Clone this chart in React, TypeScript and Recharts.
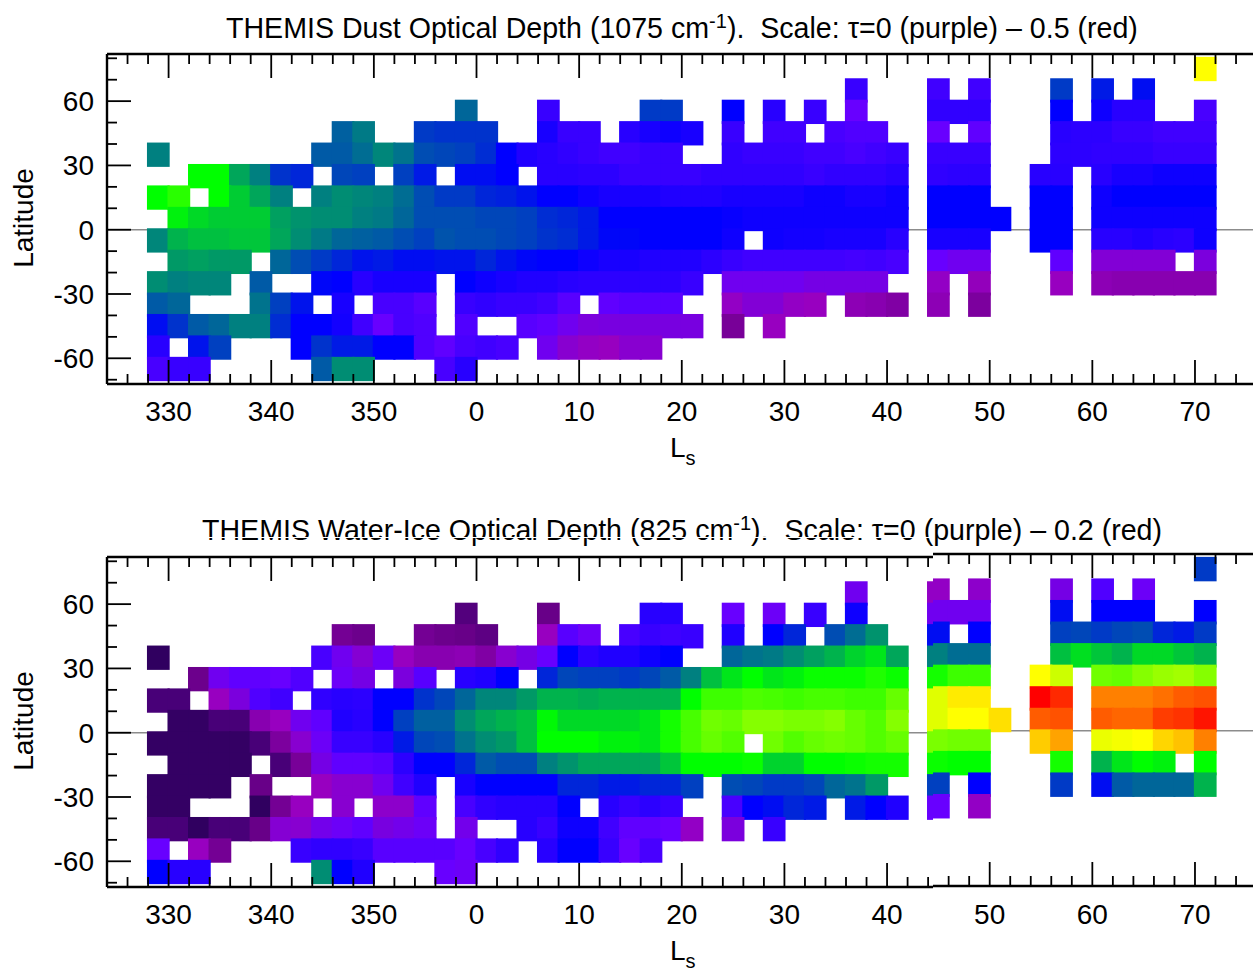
import React from 'react';
import { ScatterChart, Scatter, XAxis, YAxis, ReferenceLine } from 'recharts';

const _ = null;
// Values are percent of each panel's colour scale (0 = purple, 100 = red). Columns start at Ls 328, 2 degrees wide.
const dustN75 = [_,_,_,_,_,_,_,_,_,_,_,_,_,_,_,_, _,_,_,_,_,_,_,_,_,_,_,_,_,_,_,_,_,_,_,_, _,_,_,_,_,_,_,_,_,_,_,_,_,_,_,75];
const dustN65 = [_,_,_,_,_,_,_,_,_,_,_,_,_,_,_,_, _,_,_,_,_,_,_,_,_,_,_,_,_,_,_,_,_,_,24,_, _,_,23,_,23,_,_,_,34.5,_,32,_,31,_,_,_];
const dustN55 = [_,_,_,_,_,_,_,_,_,_,_,_,_,_,_,38, _,_,_,24,_,_,_,_,34.5,34.5,_,_,30,_,27,_,24,_,18,_, _,_,25,25,25,_,_,_,30,_,29,27,27,_,_,22];
const dustN45 = [_,_,_,_,_,_,_,_,_,37.5,39.5,_,_,34.5,34,34, 34,_,_,28,24,24,_,27,28,29,28,_,24,_,23,23,_,22,21,21, _,_,18,_,19,_,_,_,27,26,26,24,24,23,23,23];
const dustN35 = [40,_,_,_,_,_,_,_,37,37,38.5,40.5,39,36,35.5,35, 33.5,30,27.5,27,25,24,23,23,24,24,_,_,25,24,24,24,23,23,22,23, 24,_,24,24,24,_,_,_,26,26,25,25,25,24,24,24];
const dustN25 = [_,_,50,50,43,40,34,33,_,35.5,35,_,35,32,_,31, 31,30,_,27,27,26,26,24,24,24,24,25,25,25,25,25,24,25,25,25, 27,_,25,26,26,_,_,27,27,_,27,28,28,29,29,29];
const dustN15 = [50,54,_,50,46,43,40,_,40,41,40.5,40,38.5,36,34.5,34.5, 33,32.5,31.5,30,30,29,28,28,28,27.5,27.5,27.5,28,28,28,28,29,29,28,28, 29,_,30,30,30,_,_,30,30,_,29,30,30,30,30,30];
const dustN05 = [_,49,47,46,46,46,42.5,41.5,41,41,40,39.5,38,36,36,36, 35.5,35.5,35,33.5,33,32,30,30,30,30,30,30,29.5,29,29,29,29,29,29,29, 29,_,30,30,30,30,_,30,30,_,29,29,29,29,29,29];
const dustS05 = [40.5,44,45,45,45.5,45.5,43,41,39.5,38,37.5,37,36,35,36.5,36, 36,35.5,35,34,33.5,32,30.5,30.5,30,30,30,30,29,_,29,28.5,28.5,28,28,28, 27,_,28,28,28,_,_,30,30,_,27,27,27.5,27,26,29];
const dustS15 = [_,42,42.5,42,42,_,38,36,34.5,33,31.5,32,31,31,31.5,31.5, 33,31.5,30.5,30,30,29,28,28,27.5,27.5,27.5,26,24,23,23,23,23,23,22.5,23, 22,_,18,17,17,_,_,_,19,_,14,14,14,14,_,15];
const dustS25 = [41,40,40.5,40.5,_,37,_,_,30.5,30,27,28,28,28,_,30, 29,28,27.5,27.5,27,26,26,26,26,26,24,_,17,17,17,17,16,16,16,16, _,_,12,_,11,_,_,_,11.5,_,10.5,10,10,10,10,10];
const dustS35 = [37,38,_,_,_,39,35,31.5,_,28,_,22,22,20,_,24, 25,24,24,23,20,_,19,20,20,20,_,_,12,14,14,12,11.5,_,10.5,10, 9,_,10.5,_,8.5,_,_,_,_,_,_,_,_,_,_,_];
const dustS45 = [31,34,37,38,40,40,33.5,30,30,28.5,23,18,22,21,_,21, _,_,20,19,17,15,15.5,15.5,15.5,15.5,15.5,_,8,_,11.5,_,_,_,_,_, _,_,_,_,_,_,_,_,_,_,_,_,_,_,_,_];
const dustS55 = [27,_,31.5,35,_,_,_,30,34,32,32,30,30,21,19,22, 23,22,_,17,13,12,11.5,13,13,_,_,_,_,_,_,_,_,_,_,_, _,_,_,_,_,_,_,_,_,_,_,_,_,_,_,_];
const dustS65 = [22,24,24,_,_,_,_,_,37,41,41,_,_,_,22,27, _,_,_,_,_,_,_,_,_,_,_,_,_,_,_,_,_,_,_,_, _,_,_,_,_,_,_,_,_,_,_,_,_,_,_,_];

const iceN75 = [_,_,_,_,_,_,_,_,_,_,_,_,_,_,_,_, _,_,_,_,_,_,_,_,_,_,_,_,_,_,_,_,_,_,_,_, _,_,_,_,_,_,_,_,_,_,_,_,_,_,_,34.5];
const iceN65 = [_,_,_,_,_,_,_,_,_,_,_,_,_,_,_,_, _,_,_,_,_,_,_,_,_,_,_,_,_,_,_,_,_,_,17,_, _,_,12,_,12.5,_,_,_,16,_,21,_,17.5,_,_,_];
const iceN55 = [_,_,_,_,_,_,_,_,_,_,_,_,_,_,_,4, _,_,_,6,_,_,_,_,27,27,_,_,18,_,17.5,_,24,_,29,_, _,_,17,17,17,_,_,_,31,_,30,30,30,_,_,30];
const iceN45 = [_,_,_,_,_,_,_,_,_,7.5,6.5,_,_,7.5,6.5,6, 5,_,_,11.5,20,17.5,_,22,24,23,24,_,27.5,_,30,33,_,36,38.5,41.5, _,_,31,_,30,_,_,_,35,35.5,34.5,35.5,36,33,32,34.5];
const iceN35 = [0,_,_,_,_,_,_,_,22,17,13.5,17.5,11.5,10,10,10.5, 9,13,16,18,30,26,27.5,27.5,29,30,_,_,38,39,39.5,41,42.5,44,46.5,48, 43,_,40,38.5,38.5,_,_,_,45,47.5,45.5,44,47,47,45.5,44];
const iceN25 = [_,_,6.5,17,19,19,18,21,_,17.5,16,_,15,20,_,27, 27.5,30,_,33,35.5,35,35,34.5,35.5,37,40,45,48,50,48,49,51,51,51,53, 51,_,52,56,56,_,_,75,70,_,61,60,63,65,66,63];
const iceN15 = [3,3,_,11.5,15,21,23,_,25,27,26,30,30,34,35.5,38, 40.5,40.5,42,44,44,43.5,44,44,44,44,50,56,56,57.5,57,56,57,57,56,56, 60,_,72,77,77,_,_,100,96,_,87.5,87.5,87.5,89,91,92];
const iceN05 = [_,0.5,0.5,3,3,10,11.5,17,19,27.5,27,30,35,37.5,37.5,41, 43,44,45,49.5,47,47,47,47,48,52,57,61,60,63,63,62,62,63,60,58, 63,_,72,75,75,78,_,91,92,_,91,90,90,94,95,98];
const iceS05 = [0.5,0.5,0.5,0.5,0.5,3,8.5,13,17.5,24,24,27,32,35.5,36,39, 41,42,45,50,50,50,49,49,48,52,57,60,58,_,61,58,60,61,60,58, 60,_,62,61,61,_,_,80,84,_,73,74,75,79,81,87.5];
const iceS15 = [_,0.5,0.5,0.5,0.5,_,3,8,16,19,19,20,26,30,30,33, 37,36,36,40,41.5,43,43,43,43,45.5,50,50,50,51,46.5,46.5,50,50,51,52, 52,_,51,50,50,_,_,_,52,_,44,48,50,49,_,50];
const iceS25 = [0.5,0.5,0.5,0.5,_,6,_,_,11.5,13,13,17,23,27.5,_,28, 30,30,30,30,33,33,32,32,33,33,35,_,36,35.5,34.5,34.5,35.5,38,39,42, _,_,35,_,30,_,_,_,34.5,_,31,37,38,38,38,44];
const iceS35 = [0.5,0.5,_,_,_,0,7.5,11.5,_,13,_,12.5,12.5,19,_,22, 25,27,27,27,30,_,27,24,26,24,_,_,22,30,31,33,32,_,32,30, 27.5,_,18,_,12,_,_,_,_,_,_,_,_,_,_,_];
const iceS45 = [3,3,0,3,3,6,13.5,13,16.5,17.5,19,15.5,16.5,17.5,_,16.5, _,_,27,24,29,29,23,19,19,18,12,_,15,_,24,_,_,_,_,_, _,_,_,_,_,_,_,_,_,_,_,_,_,_,_,_];
const iceS55 = [18,_,11.5,7.5,_,_,_,24,25,25,24,20,20,20,20,18, 22,25,_,27,30,30,24,18,22,_,_,_,_,_,_,_,_,_,_,_, _,_,_,_,_,_,_,_,_,_,_,_,_,_,_,_];
const iceS65 = [30,27,27,_,_,_,_,_,41,30,27.5,_,_,_,18,17.5, _,_,_,_,_,_,_,_,_,_,_,_,_,_,_,_,_,_,_,_, _,_,_,_,_,_,_,_,_,_,_,_,_,_,_,_];

const rowLats = [75, 65, 55, 45, 35, 25, 15, 5, -5, -15, -25, -35, -45, -55, -65];
const dustRows = [dustN75, dustN65, dustN55, dustN45, dustN35, dustN25, dustN15, dustN05, dustS05, dustS15, dustS25, dustS35, dustS45, dustS55, dustS65];
const iceRows = [iceN75, iceN65, iceN55, iceN45, iceN35, iceN25, iceN15, iceN05, iceS05, iceS15, iceS25, iceS35, iceS45, iceS55, iceS65];

const xTicks = [326,328,330,332,334,336,338,340,342,344,346,348,350,352,354,356,358,360,362,364,366,368,370,372,374,376,378,380,382,384,386,388,390,392,394,396,398,400,402,404,406,408,410,412,414,416,418,420,422,424,426,428,430,432,434];
const yTicks = [-70,-60,-50,-40,-30,-20,-10,0,10,20,30,40,50,60,70,80];

const colorStops: [number, number, number, number][] = [
  [0,48,0,96],[3,72,0,120],[6,104,0,136],[8,120,0,152],[10,136,0,176],[11.5,152,0,192],[13,136,0,208],
  [15.5,120,0,224],[17,112,0,240],[18,104,0,255],[20,88,0,255],[22,72,0,255],[24,56,0,255],[25,48,0,255],[27,40,0,255],[28,24,0,255],[29,14,0,255],
  [30,0,0,255],[40,0,128,128],[50,0,255,0],[75,255,255,0],[100,255,0,0],
];
function colorOf(t: number) {
  for (let i = 1; i < colorStops.length; i++) {
    const a = colorStops[i - 1], b = colorStops[i];
    if (t <= b[0]) {
      const f = (t - a[0]) / (b[0] - a[0]);
      const c = [1, 2, 3].map((k) => Math.round(a[k] + (b[k] - a[k]) * f));
      return `rgb(${c[0]},${c[1]},${c[2]})`;
    }
  }
  return 'rgb(255,0,0)';
}

const X0 = 324, X1 = 436.14, Y0 = -72, Y1 = 82;
const PLOT_W = 1151;
const LEFT = 107, BOTTOM = 60;
const CELL_W = (PLOT_W / (X1 - X0)) * 2;
const BLEED_X = 1.1, BLEED_Y = 1.45;
const FONT = '"Liberation Sans", Arial, sans-serif';

function toCells(rows: (number | null)[][]) {
  const out: { x: number; y: number; v: number }[] = [];
  rows.forEach((r, ri) => r.forEach((v, ci) => {
    if (v !== null) out.push({ x: 329 + 2 * ci, y: rowLats[ri], v });
  }));
  return out;
}

const NoMark = () => null;

function Panel({ rows, top, plotTop, plotH, labels }: { rows: (number | null)[][]; top: number; plotTop: number; plotH: number; labels: boolean }) {
  const cellH = (plotH / (Y1 - Y0)) * 10;
  const data = toCells(rows);
  const axisLine = { stroke: '#000', strokeWidth: 2.4 };
  const common = { tickLine: false, axisLine, tickSize: 0, tickMargin: 0, allowDataOverflow: true, interval: 0 as const, zIndex: 1000 };

  const Cell = (p: any) => (
    <rect x={p.cx - CELL_W / 2 - BLEED_X} y={p.cy - cellH / 2 - BLEED_Y} width={CELL_W + 2 * BLEED_X} height={cellH + 2 * BLEED_Y} fill={colorOf(p.payload.v)} />
  );
  const BottomTick = (p: any) => {
    const major = p.payload.value % 10 === 0;
    return (
      <g>
        <line x1={p.x} x2={p.x} y1={p.y} y2={p.y - (major ? 24 : 10)} stroke="#000" strokeWidth={1.8} />
        {labels && major && <text x={p.x} y={p.y + 37} textAnchor="middle" fontSize={28} fontFamily={FONT} fill="#000">{p.payload.value % 360}</text>}
      </g>
    );
  };
  const TopTick = (p: any) => {
    const major = p.payload.value % 10 === 0;
    return <line x1={p.x} x2={p.x} y1={p.y} y2={p.y + (major ? 24 : 10)} stroke="#000" strokeWidth={1.8} />;
  };
  const LeftTick = (p: any) => {
    const major = p.payload.value % 30 === 0;
    return (
      <g>
        <line x1={p.x} x2={p.x + (major ? 24 : 10)} y1={p.y} y2={p.y} stroke="#000" strokeWidth={1.8} />
        {labels && major && <text x={p.x - 13} y={p.y + 10} textAnchor="end" fontSize={28} fontFamily={FONT} fill="#000">{p.payload.value}</text>}
      </g>
    );
  };
  const RightTick = (p: any) => {
    const major = p.payload.value % 30 === 0;
    return <line x1={p.x} x2={p.x - (major ? 24 : 10)} y1={p.y} y2={p.y} stroke="#000" strokeWidth={1.8} />;
  };

  return (
    <div style={{ position: 'absolute', left: 0, top }}>
      <ScatterChart width={LEFT + PLOT_W + 2} height={plotTop + plotH + BOTTOM} margin={{ left: 0, top: 0, right: 2, bottom: 0 }}>
        <ReferenceLine xAxisId="b" yAxisId="l" y={0} stroke="#8c8c8c" strokeWidth={1.6} />
        <Scatter xAxisId="b" yAxisId="l" data={data} dataKey="y" shape={Cell} isAnimationActive={false} />
        <Scatter xAxisId="t" yAxisId="r" data={data} dataKey="y" shape={NoMark} isAnimationActive={false} />
        <XAxis xAxisId="b" type="number" dataKey="x" orientation="bottom" height={BOTTOM} domain={[X0, X1]} ticks={xTicks} tick={BottomTick} {...common} />
        <XAxis xAxisId="t" type="number" dataKey="x" orientation="top" height={plotTop} domain={[X0, X1]} ticks={xTicks} tick={TopTick} {...common} />
        <YAxis yAxisId="l" type="number" dataKey="y" orientation="left" width={LEFT} domain={[Y0, Y1]} ticks={yTicks} tick={LeftTick} {...common} />
        <YAxis yAxisId="r" type="number" dataKey="y" orientation="right" width={0} domain={[Y0, Y1]} ticks={yTicks} tick={RightTick} {...common} />
      </ScatterChart>
    </div>
  );
}

function Labels({ top }: { top: number }) {
  return (
    <>
      <text x={0} y={0} transform={`translate(33 ${top + 218}) rotate(-90)`} textAnchor="middle" fontSize={28} fontFamily={FONT}>Latitude</text>
      <text x={670} y={top + 457} fontSize={28} fontFamily={FONT}>L<tspan dy={8} fontSize={20}>s</tspan></text>
    </>
  );
}

const SEAM_X = 933;

export default function App() {
  return (
    <div style={{ position: 'absolute', left: 0, top: 0, width: 1253, height: 968, overflow: 'hidden', background: '#fff' }}>
      <Panel rows={dustRows} top={0} plotTop={54} plotH={330} labels />
      <Panel rows={iceRows} top={503} plotTop={54} plotH={330} labels />
      <div style={{ position: 'absolute', left: SEAM_X, top: 551, width: 1253 - SEAM_X, height: 338, overflow: 'hidden', background: '#fff' }}>
        <div style={{ position: 'absolute', left: -SEAM_X, top: -51 }}>
          <Panel rows={iceRows} top={0} plotTop={54} plotH={332} labels={false} />
        </div>
      </div>
      <svg width={1253} height={968} style={{ position: 'absolute', left: 0, top: 0, pointerEvents: 'none' }}>
        <text x={226} y={38} fontSize={28.6} fontFamily={FONT} xmlSpace="preserve" style={{ whiteSpace: 'pre' }}>THEMIS Dust Optical Depth (1075 cm<tspan dy={-10} fontSize={20}>-1</tspan><tspan dy={10}>).  Scale: τ=0 (purple) – 0.5 (red)</tspan></text>
        <text x={202} y={540} fontSize={28.6} fontFamily={FONT} xmlSpace="preserve" style={{ whiteSpace: 'pre' }}>THEMIS Water-Ice Optical Depth (825 cm<tspan dy={-10} fontSize={20}>-1</tspan><tspan dy={10}>).  Scale: τ=0 (purple) – 0.2 (red)</tspan></text>
        <rect x={0} y={537} width={SEAM_X} height={1} fill="#fff" />
        <Labels top={0} />
        <Labels top={503} />
      </svg>
    </div>
  );
}
